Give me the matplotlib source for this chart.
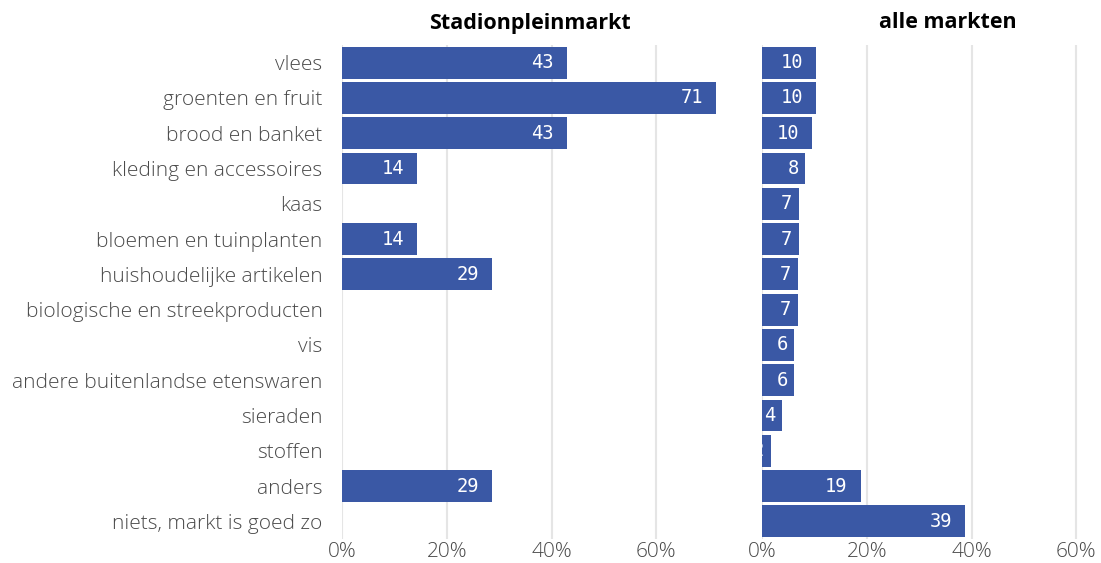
import numpy as np
import matplotlib.pyplot as plt
from matplotlib.ticker import FuncFormatter

plt.rcParams['font.family'] = ['Open Sans', 'DejaVu Sans']

categories = ['vlees', 'groenten en fruit', 'brood en banket', 'kleding en accessoires',
              'kaas', 'bloemen en tuinplanten', 'huishoudelijke artikelen',
              'biologische en streekproducten', 'vis', 'andere buitenlandse etenswaren',
              'sieraden', 'stoffen', 'anders', 'niets, markt is goed zo']
# percentages
stadionplein = [42.9, 71.4, 42.9, 14.3, 0, 14.3, 28.6, 0, 0, 0, 0, 0, 28.6, 0]
alle_markten = [10.4, 10.4, 9.6, 8.3, 7.1, 7.1, 6.8, 6.8, 6.2, 6.2, 3.8, 1.7, 18.8, 38.8]

titles = ['Stadionpleinmarkt', 'alle markten']
bar_color = '#3a58a5'
text_color = '#4a4a4a'

W, H = 1101, 563
fig = plt.figure(figsize=(W / 100, H / 100), dpi=100)

y = np.arange(len(categories))
bottom = 1 - 539 / H
height = (539 - 45) / H
ax1 = fig.add_axes([342 / W, bottom, 393 / W, height])
ax2 = fig.add_axes([762 / W, bottom, 339 / W, height])

for ax, vals, xm in [(ax1, stadionplein, 75), (ax2, alle_markten, 75 * 339 / 393)]:
    ax.barh(y, vals, height=0.9, color=bar_color, zorder=2)
    for yi, v in zip(y, vals):
        if v > 0:
            s = str(int(round(v)))
            pad = 1.3 if len(s) == 1 else 2.45
            ax.text(v - pad, yi, s, color='white', ha='right', va='center',
                    fontsize=13.5, family='DejaVu Sans Mono', zorder=3)
    ax.set_xlim(0, xm)
    ax.set_ylim(len(categories) - 0.5, -0.5)
    ax.set_xticks([0, 20, 40, 60])
    ax.xaxis.set_major_formatter(FuncFormatter(lambda v, p: f'{int(v)}%'))
    ax.grid(axis='x', color='#e5e5e5', linewidth=1.5, zorder=0)
    for s in ax.spines.values():
        s.set_visible(False)
    ax.tick_params(length=0, labelsize=15, colors=text_color, pad=2)
    ax.set_yticks(y)

ax1.set_yticklabels(categories, fontweight='light', fontsize=15)
ax1.tick_params(axis='y', pad=14)
ax2.set_yticklabels([])
for lbl in ax1.get_xticklabels() + ax2.get_xticklabels():
    lbl.set_fontweight('light')

fig.text(530 / W, 1 - 23 / H, titles[0], ha='center', va='center',
         fontsize=15.5, fontweight='bold', color='black')
fig.text(948 / W, 1 - 23 / H, titles[1], ha='center', va='center',
         fontsize=15.5, fontweight='bold', color='black')

fig.savefig('out.png', dpi=100)
